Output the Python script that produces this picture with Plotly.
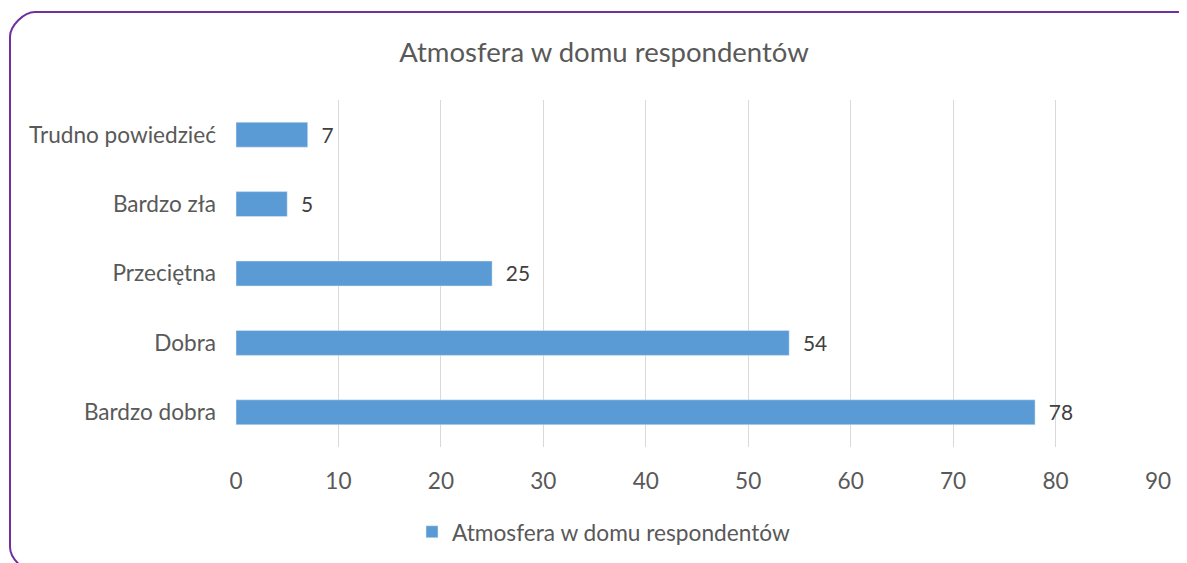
import plotly.graph_objects as go

categories = ["Bardzo dobra", "Dobra", "Przeciętna", "Bardzo zła", "Trudno powiedzieć"]
values = [78, 54, 25, 5, 7]
series_name = "Atmosfera w domu respondentów"
title = "Atmosfera w domu respondentów"

W, H = 1187, 563
OFF = 8  # page body margin
L, R, T, B = 228, 37, 92, 124
pw, ph = W - L - R, H - T - B


def px(x):
    # screen pixel -> paper x
    return (x - OFF - L) / pw


def py(y):
    # screen pixel -> paper y
    return (H - B - (y - OFF)) / ph


# rounded purple frame, partly cut off at right and bottom
x0, y0, x1, y1, r = 10, 12, 1202, 572, 25
k = 0.45 * r
frame = (
    f"M {px(x0)},{py(y0 + r)} "
    f"C {px(x0)},{py(y0 + r - k)} {px(x0 + r - k)},{py(y0)} {px(x0 + r)},{py(y0)} "
    f"L {px(x1 - r)},{py(y0)} "
    f"C {px(x1 - r + k)},{py(y0)} {px(x1)},{py(y0 + r - k)} {px(x1)},{py(y0 + r)} "
    f"L {px(x1)},{py(y1 - r)} "
    f"C {px(x1)},{py(y1 - r + k)} {px(x1 - r + k)},{py(y1)} {px(x1 - r)},{py(y1)} "
    f"L {px(x0 + r)},{py(y1)} "
    f"C {px(x0 + r - k)},{py(y1)} {px(x0)},{py(y1 - r + k)} {px(x0)},{py(y1 - r)} Z"
)

font = "Lato, 'Open Sans', sans-serif"
grey = "#595959"

fig = go.Figure(go.Bar(
    x=values,
    y=categories,
    orientation="h",
    name=series_name,
    marker=dict(color="#5B9BD5"),
    text=values,
    texttemplate="  %{x}",
    textposition="outside",
    textfont=dict(size=22.6, color="#404040", family=font),
    cliponaxis=False,
    showlegend=True,
))

fig.update_layout(
    width=W, height=H,
    margin=dict(l=L, r=R, t=T, b=B),
    paper_bgcolor="white",
    plot_bgcolor="white",
    bargap=0.64,
    title=dict(text=title, x=(604 - OFF) / W, xref="container",
               y=1 - (52 - OFF) / H, yref="container",
               xanchor="center", yanchor="middle",
               font=dict(size=27.5, color=grey, family=font)),
    font=dict(family=font, color=grey),
    legend=dict(orientation="h", xref="container", yref="container",
                x=(412 - OFF) / W, y=1 - (532 - OFF) / H, xanchor="left", yanchor="middle",
                font=dict(size=22.7, color=grey, family=font)),
    shapes=[dict(type="path", path=frame, xref="paper", yref="paper",
                 line=dict(color="#7030A0", width=2), layer="above")],
)

fig.update_xaxes(range=[0, 90], dtick=10, showgrid=True, gridcolor="#D9D9D9", gridwidth=1,
                 zeroline=False, showline=False, ticks="",
                 ticklabelstandoff=18,
                 tickfont=dict(size=22.6, color=grey, family=font), fixedrange=True)
fig.update_yaxes(showgrid=False, zeroline=False, showline=False, ticks="",
                 ticklabelstandoff=19,
                 tickfont=dict(size=22.6, color=grey, family=font), fixedrange=True)

fig.write_html("out.html")
